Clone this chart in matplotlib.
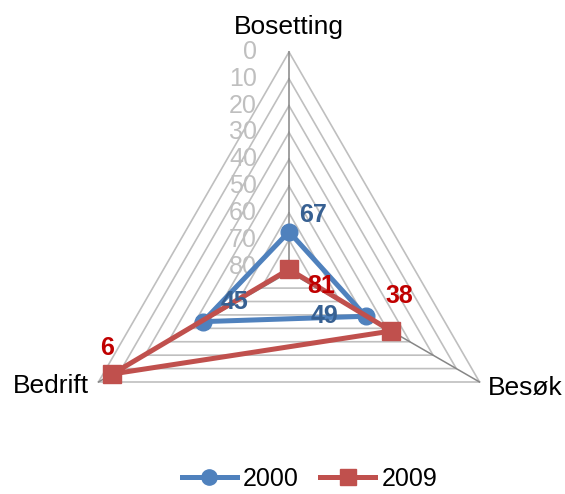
import numpy as np
import matplotlib
matplotlib.use("Agg")
import matplotlib.pyplot as plt
from matplotlib.lines import Line2D

plt.rcParams["font.family"] = ["Liberation Sans", "DejaVu Sans"]

categories = ["Bosetting", "Besøk", "Bedrift"]
series_names = ["2000", "2009"]
values_2000 = [67, 49, 45]
values_2009 = [81, 38, 6]
tick_values = [0, 10, 20, 30, 40, 50, 60, 70, 80]

# axis is reversed: 0 at the rim, RMAX in the centre
RMAX = 82.0
angles = np.deg2rad([90, -30, 210])

BLUE = "#4F81BD"
RED = "#C0504D"
BLUE_TXT = "#376092"
RED_TXT = "#C00000"

# label offsets in points (x, y) per series and category
label_offsets = {
    "2000": [(17, 12), (-30, 0), (23, 14)],
    "2009": [(23, -12), (6, 25), (-4, 19)],
}


def to_xy(vals):
    r = (RMAX - np.asarray(vals, dtype=float)) / RMAX
    return r * np.cos(angles), r * np.sin(angles)


fig = plt.figure(figsize=(5.65, 4.94), dpi=100)
ax = fig.add_axes([0, 0, 1, 1])
ax.set_xlim(-289 / 220, 276 / 220)
ax.set_ylim(-222 / 220, 272 / 220)
ax.set_aspect("equal")
ax.axis("off")

# triangular grid
for t in tick_values:
    gx, gy = to_xy([t] * 3)
    ax.plot(np.append(gx, gx[0]), np.append(gy, gy[0]), color="#BFBFBF", lw=1.2, zorder=1)

# spokes
ox, oy = to_xy([0] * 3)
for x, y in zip(ox, oy):
    ax.plot([0, x], [0, y], color="#868686", lw=1.1, zorder=1.5)

# tick labels along the top spoke
for t in tick_values:
    tx, ty = to_xy([t] * 3)
    ax.text(tx[0] - 0.145, ty[0], str(t), ha="right", va="center",
            fontsize=18, color="#BFBFBF", zorder=1.2)

# category labels
ax.annotate(categories[0], (ox[0], oy[0]), xytext=(0, 18), textcoords="offset points",
            ha="center", va="center", fontsize=19)
ax.annotate(categories[1], (ox[1], oy[1]), xytext=(6, -4), textcoords="offset points",
            ha="left", va="center", fontsize=19)
ax.annotate(categories[2], (ox[2], oy[2]), xytext=(-7, -3), textcoords="offset points",
            ha="right", va="center", fontsize=19)

handles = []
for name, vals, color, marker, ms, tcol, z in [
    ("2000", values_2000, BLUE, "o", 12, BLUE_TXT, 3),
    ("2009", values_2009, RED, "s", 13, RED_TXT, 4),
]:
    x, y = to_xy(vals)
    ax.plot(np.append(x, x[0]), np.append(y, y[0]), color=color, lw=3.6, zorder=z)
    ax.plot(x, y, ls="none", marker=marker, ms=ms, color=color, zorder=z)
    for xi, yi, v, off in zip(x, y, vals, label_offsets[name]):
        ax.annotate(str(v), (xi, yi), xytext=off, textcoords="offset points",
                    ha="center", va="center", fontsize=18, fontweight="bold",
                    color=tcol, zorder=6)
    handles.append(Line2D([], [], color=color, lw=3.6, marker=marker, ms=ms - 1, label=name))

fig.legend(handles=handles, loc="center", bbox_to_anchor=(0.548, 0.03), ncol=2,
           frameon=False, fontsize=18, handlelength=2.2, handletextpad=0.25,
           columnspacing=0.85)

fig.savefig("out.png", dpi=100)
